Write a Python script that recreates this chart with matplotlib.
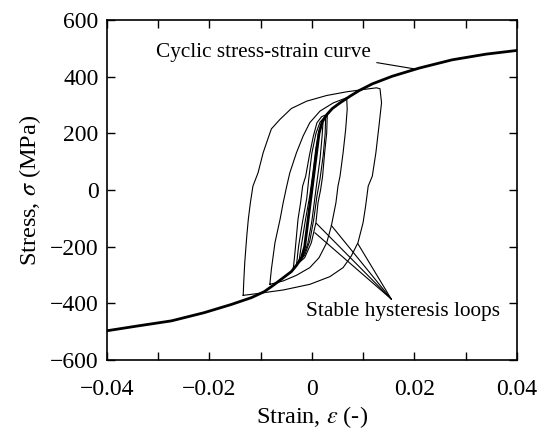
import matplotlib
matplotlib.use("Agg")
import matplotlib.pyplot as plt

plt.rcParams['font.family'] = ['Liberation Serif', 'DejaVu Serif']
plt.rcParams['mathtext.fontset'] = 'stix'

# cyclic stress-strain curve
curve_eps = [-0.040, -0.034, -0.0274, -0.021, -0.0157, -0.0118, -0.0093, -0.0075, -0.0056,
             -0.0040, -0.0030, -0.0020, -0.0014, -0.0007, 0.0, 0.0007, 0.0014, 0.0020,
             0.0030, 0.0040, 0.0055, 0.0075, 0.0093, 0.0118, 0.0157, 0.0210, 0.0274,
             0.0340, 0.0400]
curve_sig = [-497, -480, -462, -433, -404, -380, -359, -336, -310,
             -288, -266, -238, -200, -100, 0, 100, 200, 240,
             268, 288, 308, 332, 352, 375, 402, 431, 460,
             480, 493]

# stable hysteresis loops, largest first
loop1_eps = [-0.0134, -0.0133, -0.0131, -0.0127, -0.0124, -0.0120, -0.0115, -0.0105,
             -0.0095, -0.0085, -0.0079, -0.0062, -0.0040, -0.0010, 0.0029, 0.0068,
             0.0100, 0.0126, 0.0133, 0.0136, 0.0131, 0.0125, 0.0118, 0.0110, 0.0105,
             0.0100, 0.0090, 0.0077, 0.0061, 0.0035, -0.0004, -0.0056, -0.0108, -0.0134]
loop1_sig = [-372, -327, -257, -162, -103, -45, 14, 61,
             132, 185, 216, 250, 288, 314, 334, 347,
             355, 361, 358, 308, 226, 132, 49, 14, -56,
             -115, -186, -233, -274, -306, -333, -353, -366, -372]

loop2_eps = [-0.0082, -0.0079, -0.0072, -0.0062, -0.0056, -0.0049, -0.0043, -0.0030,
             -0.0017, -0.0004, 0.0016, 0.0042, 0.0068, 0.0069, 0.0066, 0.0061, 0.0055,
             0.0051, 0.0047, 0.0038, 0.0029, 0.0014, -0.0004, -0.0030, -0.0056, -0.0082]
loop2_sig = [-333, -280, -186, -103, -45, 14, 61, 132,
             191, 238, 279, 308, 326, 285, 214, 132, 49,
             14, -45, -127, -186, -239, -274, -301, -321, -333]

loop3_eps = [-0.0036, -0.0033, -0.0030, -0.0027, -0.0022, -0.0018, -0.0012, -0.0005,
             0.0003, 0.0010, 0.0019, 0.0029, 0.0030, 0.0029, 0.0025, 0.0021, 0.0017,
             0.0012, 0.0008, -0.0001, -0.0014, -0.0036]
loop3_sig = [-274, -221, -162, -103, -45, 14, 49, 120,
             191, 238, 259, 267, 261, 202, 132, 49, 0,
             -45, -115, -186, -239, -274]

loop4_eps = [-0.0030, -0.0026, -0.0018, -0.0010, -0.0006, 0.0000, 0.0008, 0.0016, 0.0027,
             0.0026, 0.0022, 0.0016, 0.0010, 0.0004, -0.0004, -0.0014, -0.0030]
loop4_sig = [-265, -200, -110, -30, 40, 130, 200, 240, 262,
             200, 120, 40, -20, -100, -180, -230, -265]

loop5_eps = [-0.0025, -0.0020, -0.0012, -0.0004, 0.0002, 0.0008, 0.0014, 0.0022,
             0.0020, 0.0016, 0.0010, 0.0005, 0.0000, -0.0008, -0.0016, -0.0025]
loop5_sig = [-250, -190, -100, -20, 60, 150, 210, 245,
             190, 110, 30, -40, -110, -190, -230, -250]

loops = [(loop1_eps, loop1_sig), (loop2_eps, loop2_sig), (loop3_eps, loop3_sig),
         (loop4_eps, loop4_sig), (loop5_eps, loop5_sig)]

# leader line targets for the loop label
leader_eps = [0.0009, 0.0006, 0.0038, 0.0090]
leader_sig = [-118, -151, -125, -190]

fig = plt.figure(figsize=(5.4, 4.29), dpi=100)
ax = fig.add_axes([0.198, 0.161, 0.759, 0.792])

for e, s in loops:
    ax.plot(e, s, color='black', lw=0.8)
ax.plot(curve_eps, curve_sig, color='black', lw=2.0)

ax.text(-0.0304, 487, 'Cyclic stress-strain curve', fontsize=15.3, ha='left', va='center')
ax.plot([0.0127, 0.0200], [450, 428], color='black', lw=0.8)

ax.text(-0.0012, -428, 'Stable hysteresis loops', fontsize=15.3, ha='left', va='center')
for e, s in zip(leader_eps, leader_sig):
    ax.plot([0.0155, e], [-385, s], color='black', lw=0.8)

ax.set_xlim(-0.04, 0.04)
ax.set_ylim(-600, 600)
ax.set_xticks([-0.04, -0.02, 0, 0.02, 0.04])
ax.set_xticklabels(['\u22120.04', '\u22120.02', '0', '0.02', '0.04'])
ax.set_xticks([-0.03, -0.01, 0.01, 0.03], minor=True)
ax.set_yticks([-600, -400, -200, 0, 200, 400, 600])
ax.set_yticklabels(['\u2212600', '\u2212400', '\u2212200', '0', '200', '400', '600'])
ax.tick_params(which='both', direction='in', top=True, right=True, length=6, width=1.0,
               labelsize=17)
ax.tick_params(axis='x', pad=14)
ax.tick_params(axis='y', pad=6)

for sp in ax.spines.values():
    sp.set_linewidth(1.2)

ax.set_xlabel('Strain, $\\varepsilon$ (-)', fontsize=17.5, labelpad=3)
ax.set_ylabel('Stress, $\\sigma$ (MPa)', fontsize=17.5, labelpad=5)

fig.savefig('out.png', dpi=100)
